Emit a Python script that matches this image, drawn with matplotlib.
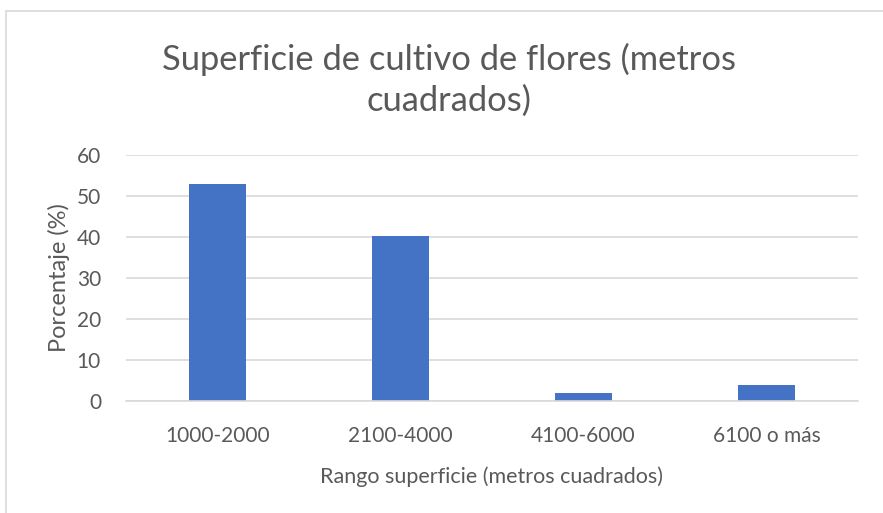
import matplotlib
matplotlib.use('Agg')
import matplotlib.pyplot as plt
from matplotlib.patches import Rectangle

categories = ['1000-2000', '2100-4000', '4100-6000', '6100 o más']
percentages = [53.0, 40.3, 2.0, 4.0]

plt.rcParams['font.family'] = ['Lato', 'DejaVu Sans']

W, H = 883, 513
fig = plt.figure(figsize=(W / 100, H / 100), dpi=100)

# axes box in pixels: x 126..858, y 155..401 (top-down)
ax = fig.add_axes([126 / W, 1 - 401 / H, (858 - 126) / W, (401 - 155) / H])

ax.bar(range(len(categories)), percentages, width=0.315, color='#4472C4')
ax.set_xlim(-0.5, len(categories) - 0.5)
ax.set_ylim(0, 60)
ax.set_yticks(range(0, 61, 10))
ax.set_xticks(range(len(categories)))
ax.set_xticklabels(categories)

ax.grid(axis='y', color='#D9D9D9', linewidth=1.2)
ax.set_axisbelow(True)
for s in ['top', 'right', 'left']:
    ax.spines[s].set_visible(False)
ax.spines['bottom'].set_color('#D9D9D9')
ax.spines['bottom'].set_linewidth(1.2)
ax.tick_params(length=0, labelsize=15, colors='#595959')
ax.tick_params(axis='x', pad=18)
ax.tick_params(axis='y', pad=18)

ax.set_xlabel('Rango superficie (metros cuadrados)', fontsize=15.5,
              color='#595959', labelpad=15)
ax.set_ylabel('Porcentaje (%)', fontsize=17, color='#595959', labelpad=5)

fig.text(449 / W, 1 - 80 / H, 'Superficie de cultivo de flores (metros\ncuadrados)',
         ha='center', va='center', fontsize=24.8, color='#595959',
         linespacing=1.32)

# chart area border
fig.patches.append(Rectangle((5.5 / W, -0.05), 1.1, 1 - 11 / H + 0.05,
                             transform=fig.transFigure, fill=False,
                             edgecolor='#D9D9D9', linewidth=1.2))

fig.savefig('out.png', dpi=100)
